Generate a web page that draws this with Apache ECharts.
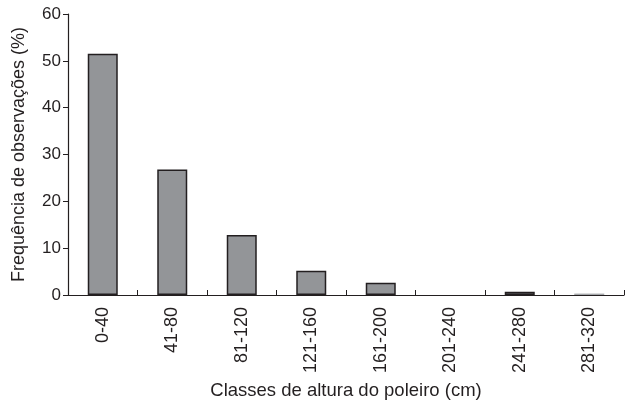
<!DOCTYPE html>
<html><head><meta charset="utf-8">
<script src="https://cdn.jsdelivr.net/npm/echarts@6/dist/echarts.min.js"></script>
<style>html,body{margin:0;padding:0;background:#fff}#c{width:628px;height:402px}</style>
</head><body><div id="c"></div>
<script>
var categories = ['0-40','41-80','81-120','121-160','161-200','201-240','241-280','281-320'];
var values = [51.5, 26.8, 12.8, 5.2, 2.6, 0, 0.7, 0.3];
var yTicks = [0, 10, 20, 30, 40, 50, 60];
var axisColor = '#231f20';
var barData = values.map(function (v, i) {
  if (v === 0) return {value: v, itemStyle: {borderWidth: 0, opacity: 0}};
  if (i === values.length - 1) return {value: v, itemStyle: {color: '#a7a9ac', borderWidth: 0}};
  return v;
});
var chart = echarts.init(document.getElementById('c'), null, {renderer:'canvas'});
chart.setOption({
  animation:false,
  backgroundColor:'#fff',
  grid:{left:68, right:4, top:14, bottom:107, containLabel:false, outerBoundsMode:'none'},
  xAxis:{
    type:'category', data:categories, boundaryGap:true,
    name:'Classes de altura do poleiro (cm)', nameLocation:'middle', nameGap:77,
    nameTextStyle:{fontFamily:'Liberation Sans', fontSize:18.5, color:axisColor},
    axisLine:{lineStyle:{color:axisColor, width:1.2}},
    axisTick:{show:true, inside:true, length:5, alignWithLabel:false, lineStyle:{color:axisColor}},
    axisLabel:{rotate:90, margin:12, fontFamily:'Liberation Sans', fontSize:18, color:axisColor, interval:0}
  },
  yAxis:{
    type:'value', min:yTicks[0], max:yTicks[yTicks.length-1], interval:10,
    name:'Frequência de observações (%)', nameLocation:'middle', nameGap:40,
    nameTextStyle:{fontFamily:'Liberation Sans', fontSize:18, color:axisColor},
    axisLine:{show:true, lineStyle:{color:axisColor, width:1.2}},
    axisTick:{show:true, inside:false, length:5, lineStyle:{color:axisColor}},
    axisLabel:{margin:7, fontFamily:'Liberation Sans', fontSize:17, color:axisColor},
    splitLine:{show:false}
  },
  series:[{
    type:'bar', data:barData, barWidth:30,
    itemStyle:{color:'#939598', borderColor:axisColor, borderWidth:1.5}
  }]
});
</script></body></html>
